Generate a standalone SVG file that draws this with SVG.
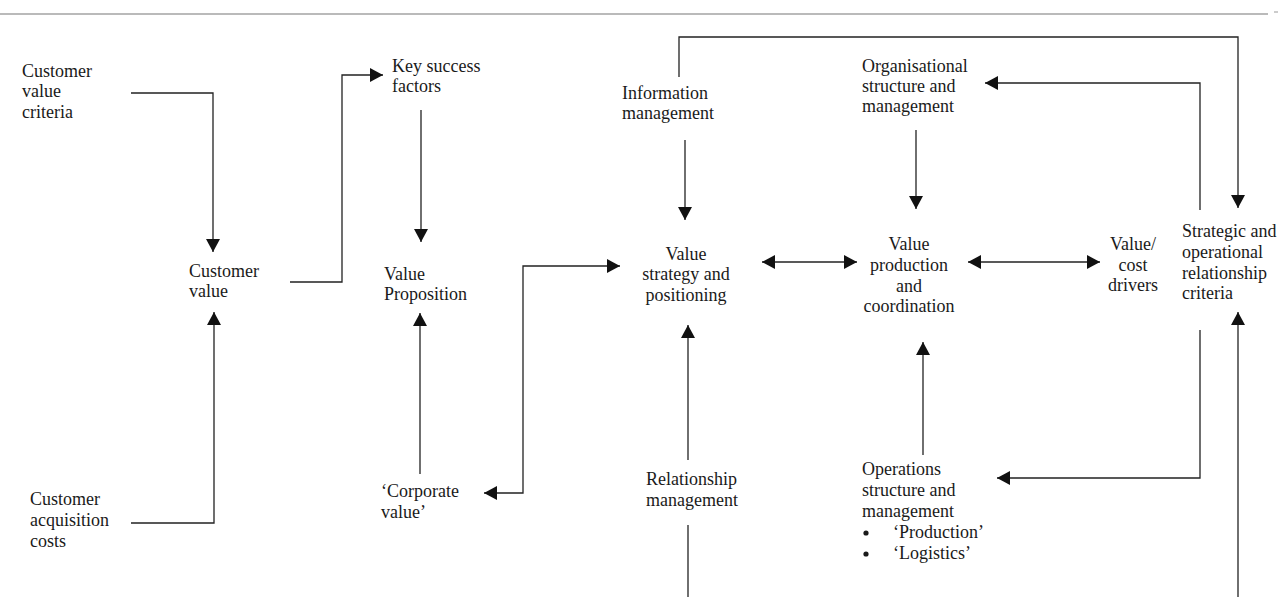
<svg xmlns="http://www.w3.org/2000/svg" width="1280" height="597" viewBox="0 0 1280 597">
<defs>
<style>
text{font-family:"Liberation Serif","Times New Roman",serif;font-size:18px;fill:#1a1a1a}
.c{text-anchor:middle}
.ln{fill:none;stroke:#222;stroke-width:1.3}
.a{marker-end:url(#ah)}
.b{marker-start:url(#ah);marker-end:url(#ah)}
</style>
<marker id="ah" viewBox="0 0 13 14" refX="13" refY="7" markerWidth="13" markerHeight="14" markerUnits="userSpaceOnUse" orient="auto-start-reverse">
<path d="M0,0 L13,7 L0,14 z" fill="#111"/>
</marker>
</defs>
<rect width="1280" height="597" fill="#fff"/>
<line x1="0" y1="14" x2="1268" y2="14" stroke="#777" stroke-width="1.2"/>
<line x1="1274" y1="12" x2="1278" y2="12" stroke="#999" stroke-width="1"/>

<g id="connectors">
<path class="ln a" d="M131,93 H213 V252"/>
<path class="ln a" d="M131,523 H214 V312"/>
<path class="ln a" d="M290,282 H342 V75 H383"/>
<path class="ln a" d="M421,110 V242"/>
<path class="ln a" d="M420,474 V313"/>
<path class="ln b" d="M484,493 H523 V266 H620"/>
<path class="ln a" d="M685,140 V220"/>
<path class="ln a" d="M679,77 V37 H1238 V208"/>
<path class="ln b" d="M762,262 H857"/>
<path class="ln a" d="M916,130 V209"/>
<path class="ln a" d="M1200,210 V83 H985"/>
<path class="ln b" d="M968,262 H1100"/>
<path class="ln a" d="M1200,330 V478 H997"/>
<path class="ln a" d="M1238,597 V312"/>
<path class="ln a" d="M923,455 V342"/>
<path class="ln a" d="M688,460 V325"/>
<path class="ln" d="M688,525 V597"/>
</g>

<g id="customer-value-criteria">
<text x="22" y="77">Customer</text>
<text x="22" y="97">value</text>
<text x="22" y="118">criteria</text>
</g>
<g id="customer-value">
<text x="189" y="277">Customer</text>
<text x="189" y="297">value</text>
</g>
<g id="customer-acquisition-costs">
<text x="30" y="505">Customer</text>
<text x="30" y="526">acquisition</text>
<text x="30" y="547">costs</text>
</g>
<g id="key-success-factors">
<text x="392" y="72">Key success</text>
<text x="392" y="92">factors</text>
</g>
<g id="value-proposition">
<text x="384" y="280">Value</text>
<text x="384" y="300">Proposition</text>
</g>
<g id="corporate-value">
<text x="381" y="497">‘Corporate</text>
<text x="381" y="518">value’</text>
</g>
<g id="information-management">
<text x="622" y="99">Information</text>
<text x="622" y="119">management</text>
</g>
<g id="value-strategy">
<text class="c" x="686" y="260">Value</text>
<text class="c" x="686" y="280">strategy and</text>
<text class="c" x="686" y="301">positioning</text>
</g>
<g id="relationship-management">
<text x="646" y="485">Relationship</text>
<text x="646" y="506">management</text>
</g>
<g id="organisational-structure">
<text x="862" y="72">Organisational</text>
<text x="862" y="92">structure and</text>
<text x="862" y="112">management</text>
</g>
<g id="value-production">
<text class="c" x="909" y="250">Value</text>
<text class="c" x="909" y="271">production</text>
<text class="c" x="909" y="292">and</text>
<text class="c" x="909" y="312">coordination</text>
</g>
<g id="value-cost-drivers">
<text class="c" x="1133" y="250">Value/</text>
<text class="c" x="1133" y="271">cost</text>
<text class="c" x="1133" y="291">drivers</text>
</g>
<g id="strategic-operational">
<text x="1182" y="237">Strategic and</text>
<text x="1182" y="258">operational</text>
<text x="1182" y="279">relationship</text>
<text x="1182" y="299">criteria</text>
</g>
<g id="operations-structure">
<text x="862" y="475">Operations</text>
<text x="862" y="496">structure and</text>
<text x="862" y="517">management</text>
<circle cx="866" cy="533" r="2.6" fill="#1a1a1a"/>
<text x="893" y="538">‘Production’</text>
<circle cx="866" cy="554" r="2.6" fill="#1a1a1a"/>
<text x="893" y="559">‘Logistics’</text>
</g>
</svg>
